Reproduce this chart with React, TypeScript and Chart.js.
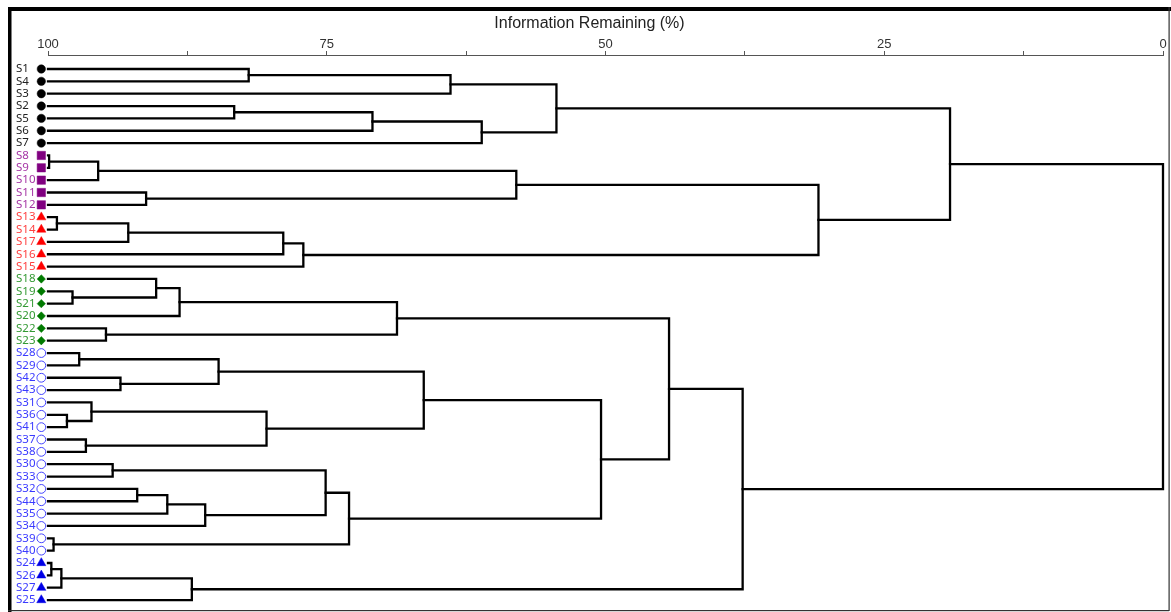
import React, { useEffect, useRef } from 'react';
import { Chart, registerables } from 'chart.js';
import { drawPoint } from 'chart.js/helpers';

Chart.register(...registerables);

// Leaves in dendrogram order (top to bottom)
const leafLabels = [
  'S1', 'S4', 'S3', 'S2', 'S5', 'S6', 'S7',
  'S8', 'S9', 'S10', 'S11', 'S12',
  'S13', 'S14', 'S17', 'S16', 'S15',
  'S18', 'S19', 'S21', 'S20', 'S22', 'S23',
  'S28', 'S29', 'S42', 'S43', 'S31', 'S36', 'S41', 'S37', 'S38',
  'S30', 'S33', 'S32', 'S44', 'S35', 'S34', 'S39', 'S40',
  'S24', 'S26', 'S27', 'S25',
];
// Group index of each leaf
const leafGroups = [
  0, 0, 0, 0, 0, 0, 0,
  1, 1, 1, 1, 1,
  2, 2, 2, 2, 2,
  3, 3, 3, 3, 3, 3,
  4, 4, 4, 4, 4, 4, 4, 4, 4,
  4, 4, 4, 4, 4, 4, 4, 4,
  5, 5, 5, 5,
];

const groupTextColors = ['#222222', '#A535A5', '#FF4040', '#339933', '#3A3AFF', '#3A3AFF'];
const groupMarkerColors = ['#000000', '#800080', '#FF0000', '#007A00', '#4646FF', '#0000E6'];
const groupMarkerStyles = ['circle', 'rect', 'triangle', 'rectRot', 'circle', 'triangle'];
const groupMarkerFilled = [true, true, true, true, false, true];
const groupMarkerRadius = [4.2, 5.9, 5.3, 4.2, 4.4, 5.3];

// Merges: left child, right child (leaf name or "M<index>"), information remaining (%)
const mergeLeft = [
  'S1', 'M0', 'S2', 'M2', 'M3', 'M1',
  'S8', 'M6', 'S11', 'M7',
  'S13', 'M10', 'M11', 'M12', 'M9', 'M5',
  'S19', 'S18', 'M17', 'S22', 'M18',
  'S28', 'S42', 'M21', 'S36', 'S31', 'S37', 'M25', 'M23',
  'S30', 'S32', 'M30', 'M31', 'M29', 'S39', 'M33', 'M28', 'M20',
  'S24', 'M38', 'M39', 'M37', 'M15',
];
const mergeRight = [
  'S4', 'S3', 'S5', 'S6', 'S7', 'M4',
  'S9', 'S10', 'S12', 'M8',
  'S14', 'S17', 'S16', 'S15', 'M13', 'M14',
  'S21', 'M16', 'S20', 'S23', 'M19',
  'S29', 'S43', 'M22', 'S41', 'M24', 'S38', 'M26', 'M27',
  'S33', 'S44', 'S35', 'S34', 'M32', 'S40', 'M34', 'M35', 'M36',
  'S26', 'S27', 'S25', 'M40', 'M41',
];
const mergeHeight = [
  82.0, 63.9, 83.3, 70.9, 61.1, 54.4,
  99.9, 95.5, 91.2, 58.0,
  99.2, 92.8, 78.9, 77.1, 30.9, 19.1,
  97.8, 90.3, 88.2, 94.8, 68.7,
  97.2, 93.5, 84.7, 98.3, 96.1, 96.6, 80.4, 66.3,
  94.2, 92.0, 89.3, 85.9, 75.1, 99.5, 73.0, 50.4, 44.3,
  99.7, 98.8, 87.1, 37.7, 0,
];

const xTickValues = [0, 12.5, 25, 37.5, 50, 62.5, 75, 87.5, 100];
const xTickLabels = [100, 75, 50, 25, 0];
const leafHeight = 100;
const markerX = 100.6;

type Pos = { x: number; y: number };

function nodePos(name: string, cache: Map<string, Pos>): Pos {
  const hit = cache.get(name);
  if (hit) return hit;
  let p: Pos;
  if (name.startsWith('M')) {
    const i = parseInt(name.slice(1), 10);
    const a = nodePos(mergeLeft[i], cache);
    const b = nodePos(mergeRight[i], cache);
    p = { x: mergeHeight[i], y: (a.y + b.y) / 2 };
  } else {
    p = { x: leafHeight, y: leafLabels.indexOf(name) };
  }
  cache.set(name, p);
  return p;
}

const framePlugin = {
  id: 'frame',
  afterDraw(chart: any) {
    const ctx = chart.ctx;
    ctx.save();
    ctx.fillStyle = '#000';
    ctx.fillRect(8, 7, 1163, 4);
    ctx.fillRect(8, 7, 3.5, 605);
    ctx.fillStyle = '#333';
    ctx.fillRect(1168.5, 7, 1.2, 604);
    ctx.fillRect(8, 610, 1161, 1.2);
    ctx.restore();
  },
};

// Leaf markers sit just left of the plot area, so draw their (library-positioned) elements without area culling
const markerPlugin = {
  id: 'leafMarkers',
  afterDatasetsDraw(chart: any) {
    const ctx = chart.ctx;
    chart.data.datasets.forEach((ds: any, di: number) => {
      if (ds.label !== 'markers') return;
      const meta = chart.getDatasetMeta(di);
      ctx.save();
      meta.data.forEach((el: any) => {
        const o = el.options;
        ctx.fillStyle = o.backgroundColor;
        ctx.strokeStyle = o.borderColor;
        ctx.lineWidth = o.borderWidth;
        drawPoint(ctx, o, el.x, el.y);
      });
      ctx.restore();
    });
  },
};

export default function App() {
  const ref = useRef<HTMLCanvasElement | null>(null);

  useEffect(() => {
    if (!ref.current) return;
    Chart.defaults.font.family = "'Liberation Sans', Arial, sans-serif";
    const cache = new Map<string, Pos>();
    const treeDatasets = mergeHeight.map((h, i) => {
      const a = nodePos(mergeLeft[i], cache);
      const b = nodePos(mergeRight[i], cache);
      return {
        label: 'M' + i,
        data: [
          { x: a.x, y: a.y },
          { x: h, y: a.y },
          { x: h, y: b.y },
          { x: b.x, y: b.y },
        ],
        indexAxis: 'y',
        showLine: true,
        borderColor: '#000',
        borderWidth: 2.3,
        borderCapStyle: 'square',
        borderJoinStyle: 'miter',
        pointRadius: 0,
        clip: false,
      };
    });
    const markerDataset = {
      label: 'markers',
      data: leafLabels.map((_, i) => ({ x: markerX, y: i })),
      indexAxis: 'y',
      showLine: false,
      clip: false,
      pointStyle: leafGroups.map((g) => groupMarkerStyles[g]),
      pointRadius: leafGroups.map((g) => groupMarkerRadius[g]),
      pointBackgroundColor: leafGroups.map((g) => (groupMarkerFilled[g] ? groupMarkerColors[g] : '#ffffff')),
      pointBorderColor: leafGroups.map((g) => groupMarkerColors[g]),
      pointBorderWidth: leafGroups.map((g) => (groupMarkerFilled[g] ? 0.5 : 1)),
    };

    const chart = new Chart(ref.current, {
      type: 'scatter',
      data: { datasets: [...treeDatasets, markerDataset] as any },
      options: {
        animation: false,
        responsive: false,
        events: [],
        layout: { padding: { left: 16, right: 8, top: 0, bottom: 8 } },
        plugins: {
          legend: { display: false },
          tooltip: { enabled: false },
          title: {
            display: true,
            text: 'Information Remaining (%)',
            fullSize: true,
            padding: { top: 14, bottom: 0 },
            color: '#222',
            font: { family: "'Liberation Sans', Arial, sans-serif", size: 16, weight: 'normal' },
          },
        },
        scales: {
          x: {
            type: 'linear',
            position: 'top',
            reverse: true,
            min: 0,
            max: 100,
            afterBuildTicks: (s: any) => {
              s.ticks = xTickValues.map((v) => ({ value: v }));
            },
            afterFit: (s: any) => {
              s.height = 21.8;
            },
            ticks: {
              padding: -1,
              autoSkip: false,
              maxRotation: 0,
              color: '#333',
              font: { size: 13 },
              callback: (v: any) => (xTickLabels.includes(Number(v)) ? String(v) : ''),
            },
            grid: { display: true, drawOnChartArea: false, drawTicks: true, tickLength: 4, color: '#555', lineWidth: 1 },
            border: { display: true, color: '#555', width: 1 },
          },
          y: {
            type: 'linear',
            reverse: true,
            min: -1.134,
            max: 43.32,
            afterBuildTicks: (s: any) => {
              s.ticks = leafLabels.map((_, i) => ({ value: i }));
            },
            afterFit: (s: any) => {
              s.width = 32;
            },
            ticks: {
              autoSkip: false,
              crossAlign: 'far',
              padding: 0,
              font: { family: "'Noto Sans', sans-serif", size: 11.5 },
              color: (c: any) => groupTextColors[leafGroups[c.index]] || '#222',
              callback: (_v: any, i: number) => leafLabels[i],
            },
            grid: { display: false },
            border: { display: false },
          },
        },
      } as any,
      plugins: [markerPlugin, framePlugin],
    });
    return () => chart.destroy();
  }, []);

  return (
    <div style={{ position: 'absolute', left: 0, top: 0, width: 1171, height: 612, background: '#fff' }}>
      <canvas ref={ref} width={1171} height={612} style={{ display: 'block' }} />
    </div>
  );
}
